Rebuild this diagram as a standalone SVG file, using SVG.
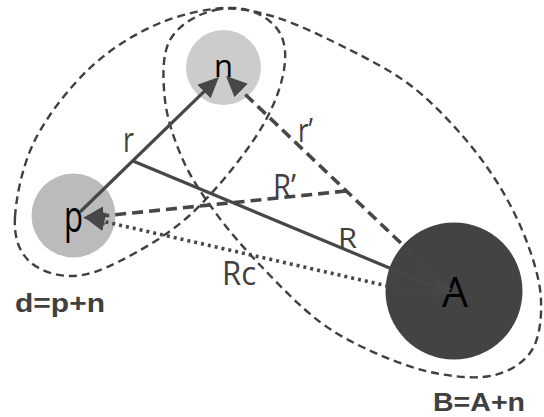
<svg xmlns="http://www.w3.org/2000/svg" width="544" height="417" viewBox="0 0 544 417">
<style>
.grp{fill:none;stroke:#404040;stroke-width:2.4;stroke-dasharray:8 5}
.con{fill:none;stroke:#474747;stroke-width:3.2}
.dash{stroke-width:3.6;stroke-dasharray:11 6}
.dot{stroke-width:3.6;stroke-dasharray:3 4}
.lbl{font-family:"Open Sans","Noto Sans",sans-serif;fill:#404040}
.sym{font-family:"Open Sans","Noto Sans",sans-serif;fill:#000}
.cap{font-family:"Liberation Sans",Arial,sans-serif;font-weight:bold;fill:#404040}
</style>
<defs>
<marker id="ah" markerUnits="userSpaceOnUse" markerWidth="24" markerHeight="20" refX="17" refY="9.5" orient="auto">
<path d="M0,0 L21,9.5 L0,19 Z" fill="#474747"/>
</marker>
</defs>
<rect width="544" height="417" fill="#ffffff"/>
<g id="group-d">
<path class="grp" d="M15,217 C16.2,197 22.5,164.8 35,140 C47.5,115.2 69.2,87.5 90,68 C110.8,48.5 135.8,33 160,23 C184.2,13 215.3,6.8 235,8 C254.7,9.2 270,18.8 278,30 C286,41.2 286.8,57 283,75 C279.2,93 270.5,114.7 255,138 C239.5,161.3 212.5,194.5 190,215 C167.5,235.5 140,250.8 120,261 C100,271.2 85.3,276.2 70,276 C54.7,275.8 37.2,269.8 28,260 C18.8,250.2 13.8,237 15,217 Z"/>
<text class="cap" x="15" y="312" font-size="26" textLength="90" lengthAdjust="spacingAndGlyphs">d=p+n</text>
</g>
<g id="group-B">
<path class="grp" d="M215,10 C232.5,6.2 252.5,10.3 275,17 C297.5,23.7 327.5,38.7 350,50 C372.5,61.3 391.7,71.2 410,85 C428.3,98.8 445,116 460,133 C475,150 488.7,168.3 500,187 C511.3,205.7 521.2,226.2 528,245 C534.8,263.8 540.3,282.5 541,300 C541.7,317.5 539.7,337.5 532,350 C524.3,362.5 510.3,371 495,375 C479.7,379 459.2,377.3 440,374 C420.8,370.7 400,363.7 380,355 C360,346.3 340,337 320,322 C300,307 277.5,283.3 260,265 C242.5,246.7 227.8,229.5 215,212 C202.2,194.5 191.3,178.7 183,160 C174.7,141.3 167.2,120 165,100 C162.8,80 161.7,55 170,40 C178.3,25 197.5,13.8 215,10 Z"/>
<text class="cap" x="433" y="411" font-size="26" textLength="92" lengthAdjust="spacingAndGlyphs">B=A+n</text>
</g>
<g id="node-n">
<circle cx="223.5" cy="67.5" r="37.5" fill="#cccccc"/>
<text class="sym" x="214" y="77" font-size="31" textLength="19" lengthAdjust="spacingAndGlyphs">n</text>
</g>
<g id="node-p">
<circle cx="73.5" cy="215.5" r="42" fill="#bbbbbb"/>
<text class="sym" x="64" y="232" font-size="43" textLength="19" lengthAdjust="spacingAndGlyphs">p</text>
</g>
<g id="node-A">
<circle cx="454" cy="291" r="68.5" fill="#434343"/>
<text class="sym" x="442" y="307" font-size="42" textLength="26" lengthAdjust="spacingAndGlyphs">A</text>
</g>
<g id="connectors">
<line class="con" x1="80" y1="212" x2="216.1" y2="79.8" marker-end="url(#ah)"/>
<line class="con" x1="133" y1="161" x2="448.3" y2="292.5" marker-end="url(#ah)"/>
<line class="con dash" x1="450" y1="290" x2="228.9" y2="78.8" marker-end="url(#ah)"/>
<line class="con dash" x1="346" y1="191" x2="87" y2="217.6" marker-end="url(#ah)"/>
<line class="con dot" x1="436" y1="297" x2="87.9" y2="217.9" marker-end="url(#ah)"/>
</g>
<g id="labels">
<text class="lbl" x="123" y="152" font-size="34" textLength="11" lengthAdjust="spacingAndGlyphs">r</text>
<text class="lbl" x="298" y="142" font-size="32" textLength="15" lengthAdjust="spacingAndGlyphs">r’</text>
<text class="lbl" x="273" y="198" font-size="32" textLength="23" lengthAdjust="spacingAndGlyphs">R’</text>
<text class="lbl" x="338" y="248" font-size="28" textLength="19" lengthAdjust="spacingAndGlyphs">R</text>
<text class="lbl" x="222" y="285" font-size="32" textLength="34" lengthAdjust="spacingAndGlyphs">Rc</text>
</g>
</svg>
